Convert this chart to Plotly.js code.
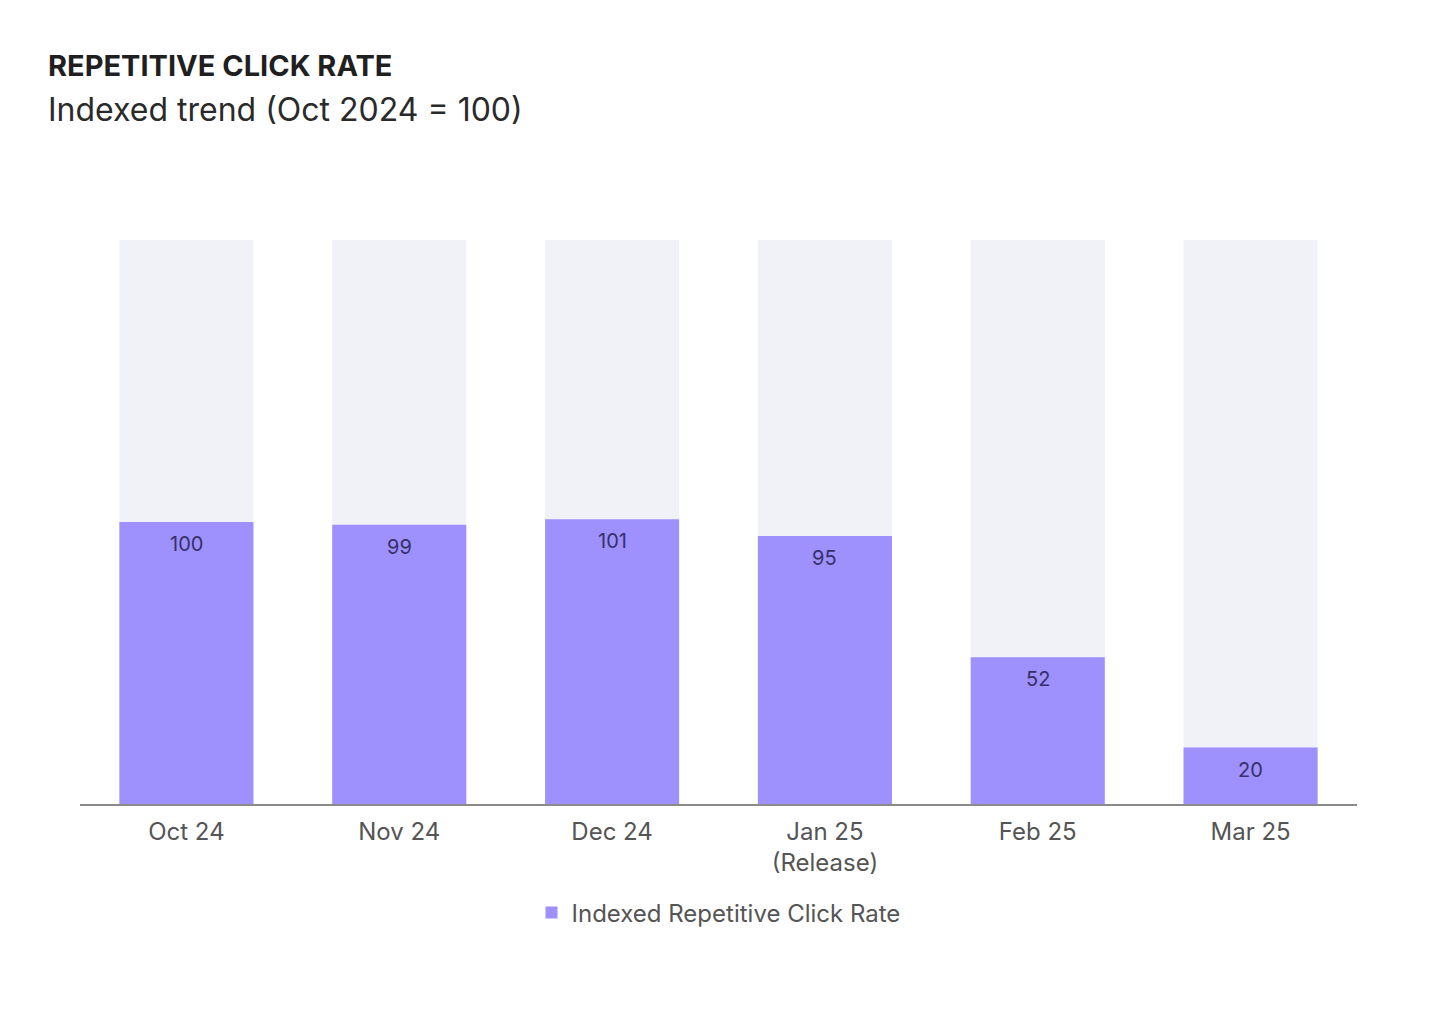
<!DOCTYPE html>
<html>
<head>
<meta charset="utf-8">
<script src="https://cdn.plot.ly/plotly-3.0.1.min.js"></script>
<style>html,body{margin:0;padding:0;background:#fff;}#chart{width:1440px;height:1016px;}</style>
</head>
<body>
<div id="chart"></div>
<script>
const categories = ["Oct 24", "Nov 24", "Dec 24", "Jan 25<br>(Release)", "Feb 25", "Mar 25"];
const indexValues = [100, 99, 101, 95, 52, 20];
const trackMax = [200, 200, 200, 200, 200, 200];
const seriesName = "Indexed Repetitive Click Rate";

const FONT = "Inter, 'Noto Sans', sans-serif";

const trackTrace = {
  type: "bar", x: categories, y: trackMax,
  marker: {color: "#f1f2f7"}, showlegend: false, hoverinfo: "skip"
};
const valueTrace = {
  type: "bar", x: categories, y: indexValues, name: seriesName,
  marker: {color: "#9e90fd"}, hoverinfo: "x+y"
};

const valueLabels = categories.map((c, i) => ({
  x: c, y: indexValues[i], xref: "x", yref: "y",
  text: String(indexValues[i]), showarrow: false,
  yanchor: "top", yshift: -8,
  font: {family: FONT, size: 20, color: "#363068"}
}));

const layout = {
  width: 1440, height: 1016,
  paper_bgcolor: "#ffffff", plot_bgcolor: "#ffffff",
  margin: {l: 80, r: 83, t: 240, b: 212},
  barmode: "overlay", bargap: 0.37,
  font: {family: FONT, color: "#555555"},
  xaxis: {
    showgrid: false, zeroline: false, showline: true,
    linecolor: "#8a8a8a", linewidth: 2, ticks: "",
    ticklabelstandoff: 5,
    tickfont: {family: FONT, size: 24, color: "#555555"}
  },
  yaxis: {range: [0, 200], showgrid: false, zeroline: false, showticklabels: false, showline: false},
  showlegend: true,
  legend: {
    orientation: "h", x: 0.5, xanchor: "center", y: -0.193, yanchor: "middle",
    font: {family: FONT, size: 24, color: "#555555"}
  },
  annotations: [
    {text: "<b>REPETITIVE CLICK RATE</b>", xref: "paper", yref: "paper",
     x: -0.0266, y: 1.310, xanchor: "left", yanchor: "middle", showarrow: false,
     font: {family: FONT, size: 29, color: "#1f1f1f"}},
    {text: "Indexed trend (Oct 2024 = 100)", xref: "paper", yref: "paper",
     x: -0.0266, y: 1.2305, xanchor: "left", yanchor: "middle", showarrow: false,
     font: {family: FONT, size: 32, color: "#2a2a2a"}}
  ].concat(valueLabels)
};

Plotly.newPlot("chart", [trackTrace, valueTrace], layout, {displayModeBar: false, responsive: false});
</script>
</body>
</html>
